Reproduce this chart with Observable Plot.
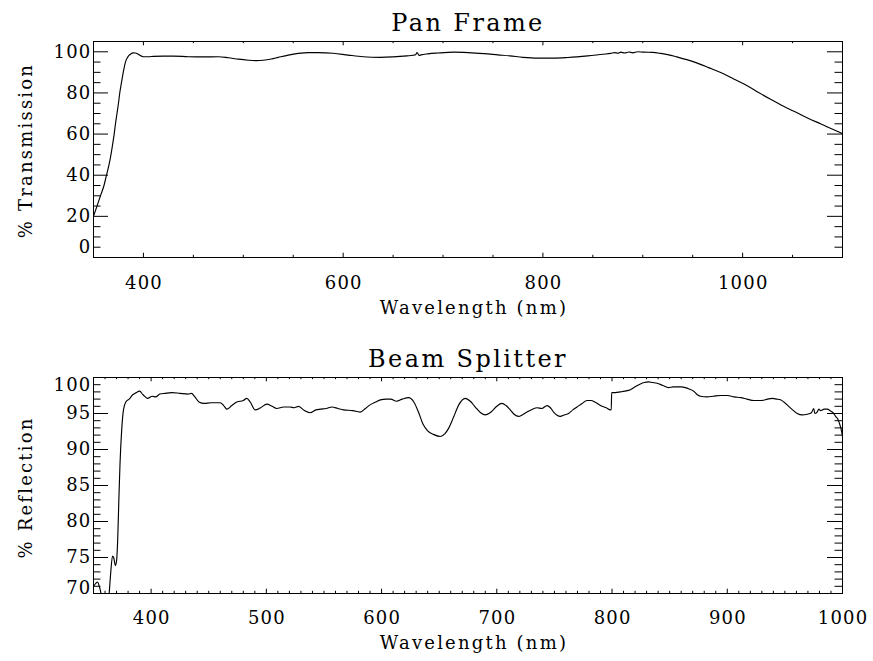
<!DOCTYPE html>
<html><head><meta charset="utf-8">
<script src="https://cdn.jsdelivr.net/npm/d3@7"></script>
<script src="https://cdn.jsdelivr.net/npm/@observablehq/plot@0.6"></script>
<style>
html,body{margin:0;padding:0;background:#fff;}
#chart{width:873px;height:661px;position:relative;overflow:hidden;background:#fff;}
#chart svg{display:block;}
</style></head><body><div id="chart"></div>
<script>
// ---- Pan Frame (transmission) ----
const panWavelength = [
  350,353.5,357,360.5,363,365.5,367.5,369,370.7,372,
  373.5,375,376.3,378,379.8,382,383.8,385.5,387.5,389.5,
  392,394,396,398,400,405,410,420,430,445,
  460,475,485,495,505,513,520,528,535,545,
  555,565,575,590,605,620,637,650,664,670,
  672.5,674,676,678,685,695,711,725,741,755,
  767,780,795,811,825,845,860,868,872,875,
  878,882,886,890,895,901,910,918,926,934,
  944,954,966,978,991,1005,1016,1028,1041,1055,
  1066,1078,1089,1100];
const panTransmission = [
  20,25,30,35,40,45,50,54.5,60,65,
  70,75,80,85,90,95,97,98.2,99,99.5,
  99.4,99,98.4,97.9,97.6,97.6,97.8,97.9,97.9,97.6,
  97.5,97.6,97.1,96.4,95.9,95.7,95.9,96.5,97.3,98.4,
  99.2,99.6,99.6,99.3,98.4,97.6,97.3,97.5,98,98.3,
  98.6,99.6,98.2,98.5,99,99.4,99.8,99.6,99.1,98.5,
  98,97.3,96.9,96.9,97.2,98,98.8,99.2,99.6,99.3,
  99.8,99.4,99.9,99.5,100,99.8,99.7,99.2,98.5,97.5,
  96.2,94.6,92.3,89.9,86.8,83.4,80.2,76.9,73.5,70.2,
  67.6,65,62.6,60.2];
const panXTicks = [400, 600, 800, 1000];
const panYTicks = [0, 20, 40, 60, 80, 100];

// ---- Beam Splitter (reflection) ----
const bsWavelength = [
  350,352,353.5,355,356.5,358,360,362,363.5,365,
  366.5,367.5,369,370,371,372,373,374.5,376,378,
  381,384,387,390,393,397,401,404,407.5,412,
  418,425,432,435,438,441.5,446,452,460,463,
  465.7,470,474.4,480,483,486,490.2,495,500.4,505,
  509,515,520.6,524,528,533,538,543,547,552,
  557,562,567,575,581.4,586,590,595,599,604,
  608,613,618,623.4,628,632,636,640,645,651,
  655,658,662.5,667,672.6,677,681.3,686,690,695,
  700,704.5,708,711.7,715,719,722,726.2,731,734.9,
  739,743.6,746.5,749.3,752,755.1,758.5,762.3,766,769.6,
  774,778.3,782,785,791.3,795,798.5,799.3,799.7,803,
  807.2,811,816,820,824.6,828,831.8,835,839,844,
  849,853,856,860,863.7,867,870.9,874,876.7,882.5,
  888,894,900,906,911.8,917,923,930,935,939,
  943,946.2,952,956,960.7,965,969.4,973,975,976,
  978,979.5,981,984,986.7,990,992,994,996,997.8,
  999,1000];
const bsReflection = [
  71.0,71.4,71.6,71.0,70.0,68.0,66.8,67.5,69.8,73.0,
  75.2,75.0,73.9,74.5,77.5,83,88,92.8,95.5,96.6,
  97.0,97.6,97.9,98.1,97.6,97.1,97.4,97.3,97.7,97.8,
  97.9,97.8,97.7,97.8,97.3,96.6,96.4,96.5,96.5,96.1,
  95.6,96.1,96.6,96.8,97.1,96.6,95.5,95.8,96.3,96.0,
  95.7,95.9,95.9,95.8,96.0,95.4,95.1,95.5,95.6,95.7,
  95.9,95.7,95.5,95.4,95.2,95.7,96.2,96.6,96.9,97.0,
  97.0,96.7,97.0,97.2,96.6,95.2,93.5,92.6,92.1,91.8,
  92.2,92.9,94.5,96.2,97.1,96.7,95.9,95.1,94.8,95.2,
  96.0,96.4,96.1,95.5,94.9,94.6,94.8,95.2,95.6,95.8,
  95.7,96.1,95.8,95.2,94.8,94.6,94.8,95.0,95.5,95.9,
  96.4,96.8,96.8,96.6,96.0,95.8,95.5,95.5,97.9,97.9,
  98.0,98.1,98.3,98.7,99.1,99.3,99.4,99.3,99.2,98.9,
  98.6,98.7,98.7,98.7,98.6,98.4,98.1,97.6,97.4,97.3,
  97.4,97.5,97.5,97.3,97.2,97.0,96.8,96.8,97.0,97.1,
  97.0,96.9,96.2,95.6,95.0,94.8,94.9,95.1,95.7,95.0,
  95.2,95.6,95.4,95.6,95.6,95.3,95.1,94.6,94.2,93.4,
  92.7,91.8];
const bsXTicks = [400, 500, 600, 700, 800, 900, 1000];
const bsYTicks = [70, 75, 80, 85, 90, 95, 100];

const xTitle = "Wavelength (nm)";
const titles = ["Pan Frame", "Beam Splitter"];

function panel(o) {
  const width = 873, marginLeft = 93, marginRight = 31;
  const innerW = width - marginLeft - marginRight;
  const innerH = o.height - o.marginTop - o.marginBottom;
  const data = o.w.map((w, i) => ({w, v: o.v[i]}));
  const xMajLen = 4.3, xMinLen = 2.2, yMajLen = 15, yMinLen = 7.5;
  const k = {stroke: "black", strokeWidth: 1};
  const yLabelMarks = o.yTicks.map(t => Plot.text([t], {
    y: d => d, frameAnchor: "left", dx: -2, dy: (o.yShift[t] || 0),
    textAnchor: "end", text: d => String(d), fontSize: 18, fill: "black"
  }));
  return Plot.plot({
    width, height: o.height, marginLeft, marginRight,
    marginTop: o.marginTop, marginBottom: o.marginBottom,
    x: {domain: o.xDomain, axis: null},
    y: {domain: o.yDomain, axis: null},
    style: {fontFamily: "'DejaVu Serif', serif", fontSize: "18px", color: "black", background: "white", overflow: "visible"},
    marks: [
      Plot.line(data, {x: "w", y: "v", stroke: "black", strokeWidth: 1.15, curve: "monotone-x", clip: true}),
      Plot.frame({stroke: "black", strokeWidth: 1}),
      Plot.tickX(o.xTicks, {x: d => d, insetTop: innerH - xMajLen, ...k}),
      Plot.tickX(o.xMinor, {x: d => d, insetTop: innerH - xMinLen, ...k}),
      Plot.tickX(o.xTicks, {x: d => d, insetBottom: innerH - xMajLen, ...k}),
      Plot.tickX(o.xMinor, {x: d => d, insetBottom: innerH - xMinLen, ...k}),
      Plot.tickY(o.yTicks, {y: d => d, insetRight: innerW - yMajLen, ...k}),
      Plot.tickY(o.yMinor, {y: d => d, insetRight: innerW - yMinLen, ...k}),
      Plot.tickY(o.yTicks, {y: d => d, insetLeft: innerW - yMajLen, ...k}),
      Plot.tickY(o.yMinor, {y: d => d, insetLeft: innerW - yMinLen, ...k}),
      Plot.text(o.xTicks, {x: d => d, frameAnchor: "bottom", dy: o.xLabelDy, dx: 0.6, lineAnchor: "bottom",
        text: d => String(d), fontSize: 18, fill: "black"}),
      ...yLabelMarks,
      Plot.text([xTitle], {frameAnchor: "bottom", dy: o.xTitleDy, dx: 6, lineAnchor: "bottom",
        textAnchor: "middle", fontSize: 18, fill: "black"}),
      Plot.text([o.yTitle], {frameAnchor: "left", dx: -61.5, dy: o.yTitleDy, rotate: -90, lineAnchor: "bottom",
        textAnchor: "middle", fontSize: 18, fill: "black"}),
      Plot.text([o.title], {frameAnchor: "top", dy: o.titleDy, dx: 0, lineAnchor: "bottom",
        textAnchor: "middle", fontSize: 24, fill: "black"})
    ]
  });
}

const topPanel = panel({
  w: panWavelength, v: panTransmission,
  xDomain: [350, 1100], yDomain: [0, 105],
  xTicks: panXTicks, xMinor: d3.range(350, 1101, 50).filter(d => !panXTicks.includes(d)),
  yTicks: panYTicks, yMinor: d3.range(0, 105, 5).filter(d => !panYTicks.includes(d)),
  yShift: {0: -10},
  title: titles[0], yTitle: "% Transmission",
  height: 330, marginTop: 41, marginBottom: 73,
  xLabelDy: 31.3, xTitleDy: 56, titleDy: -10.3, yTitleDy: 1
});
const bottomPanel = panel({
  w: bsWavelength, v: bsReflection,
  xDomain: [350, 1000], yDomain: [70, 100],
  xTicks: bsXTicks, xMinor: d3.range(350, 1001, 10).filter(d => !bsXTicks.includes(d)),
  yTicks: bsYTicks, yMinor: d3.range(70, 101, 1).filter(d => !bsYTicks.includes(d)),
  yShift: {100: 7.7, 70: -5},
  title: titles[1], yTitle: "% Reflection",
  height: 331, marginTop: 47, marginBottom: 68,
  xLabelDy: 30, xTitleDy: 55, titleDy: -11, yTitleDy: 2
});

const chart = document.getElementById("chart");
chart.appendChild(topPanel);
chart.appendChild(bottomPanel);
for (const svg of [topPanel, bottomPanel]) {
  d3.select(svg).selectAll("text").each(function() {
    const t = this.textContent;
    const ls = /^\d+$/.test(t) ? "1.2px" : titles.includes(t) ? "2.4px" : "2.2px";
    this.style.letterSpacing = ls;
  });
}
</script>
</body></html>
